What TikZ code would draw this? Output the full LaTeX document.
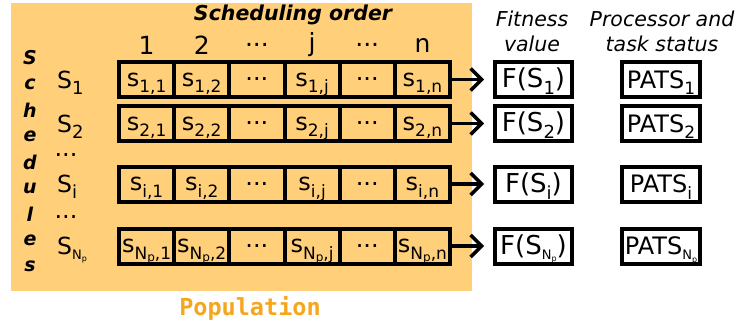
\documentclass[tikz,border=0pt]{standalone}
\usepackage{fontspec}
\setmainfont{DejaVu Sans}
\setmonofont{DejaVu Sans Mono}
\usetikzlibrary{arrows.meta}
\definecolor{popbg}{HTML}{FFCF7A}
\definecolor{poptxt}{HTML}{F7A51C}
\newcommand\fsz[1]{\fontsize{#1}{#1}\selectfont}
\newcommand\sbs[2][17]{\raisebox{-0.5ex}[\height][0pt]{\fsz{#1}#2}}
\newcommand\ssbs[2][10]{\raisebox{-0.3ex}[\height][0pt]{\fsz{#1}#2}}
\newcommand\tdots{...}
\newcommand\bigNp{N\ssbs[12]{p}}
\newcommand\smallNp{\raisebox{0.15ex}{\fsz{13}N\ssbs[8]{p}}}
\begin{document}
\begin{tikzpicture}[x=1pt,y=-1pt,
  cell/.style={draw,line width=4pt,minimum width=55.17pt,minimum height=35pt,inner sep=0pt,font=\fsz{24}},
  resbox/.style={draw,line width=4pt,minimum height=35pt,inner sep=0pt},
  arr/.style={line width=3.5pt,-{Straight Barb[length=11pt,width=22pt,line width=3.5pt]},shorten >=9pt},
  hdr/.style={font=\fsz{25}},
  vlet/.style={font=\fsz{19}\bfseries\itshape},
  lbl/.style={inner sep=0pt,font=\fsz{23.5}},
  ttl/.style={font=\fontsize{20.5}{25}\selectfont\itshape,align=center}]
\useasboundingbox (0,0) rectangle (739,324);
\fill[popbg] (11,3) rectangle (472,291);
\node[font=\fsz{20.5}\bfseries\itshape] (title) at (293,15) {Scheduling order};
\node[font=\fsz{23.5}\ttfamily\bfseries,text=poptxt] (pop) at (250,308) {Population};
\node[ttl] (fit) at (532,31) {Fitness\\value};
\node[ttl] (pats) at (662,31) {Processor and\\task status};
\foreach \k/\h in {1/1,2/2,3/\tdots,4/j,5/\tdots,6/n}{
  \pgfmathsetmacro\cx{119+55.17*(\k-0.5)}
  \node[hdr] (h\k) at (\cx,45) {\h};
}
\foreach \i/\ch in {0/S,1/c,2/h,3/e,4/d,5/u,6/l,7/e,8/s}{
  \node[vlet] (v\i) at (30,58+26*\i) {\ch};
}
\node[lbl,font=\fsz{24}] (dots1) at (66,155) {\tdots};
\node[lbl,font=\fsz{24}] (dots2) at (66,217) {\tdots};
\foreach \r/\y/\sb/\sbb in {1/79.5/1/1, 2/123.5/2/2, i/184/i/i, N/246/\bigNp/\smallNp}{
  \foreach \k/\ct in {1/{s\sbs{\sb,1}},2/{s\sbs{\sb,2}},3/{\tdots},4/{s\sbs{\sb,j}},5/{\tdots},6/{s\sbs{\sb,n}}}{
    \pgfmathsetmacro\cx{119+55.17*(\k-0.5)}
    \node[cell] (c\r-\k) at (\cx,\y) {\ct};
  }
  \node[resbox,minimum width=77pt,font=\fsz{26}] (f\r) at (533.5,\y) {F(S\sbs[18]{\sbb})};
  \node[resbox,minimum width=78pt,font=\fsz{24}] (p\r) at (661,\y) {PATS\sbs[17]{\sbb}};
  \draw[arr] (c\r-6) -- (f\r);
  \node[lbl,anchor=west] (l\r) at (57,\y) {S\sbs[18]{\sbb}};
}
\end{tikzpicture}
\end{document}
